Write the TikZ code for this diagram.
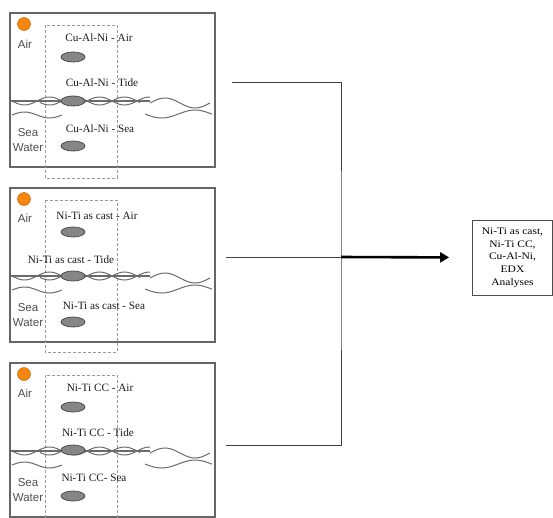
\documentclass[tikz,border=0pt]{standalone}
\usepackage{fontspec}
\setmainfont{Liberation Serif}
\newfontfamily\arialfont{Liberation Sans}
\newfontfamily\widefont[FakeStretch=1.15]{Liberation Serif}
\usetikzlibrary{arrows.meta,positioning,calc}

\definecolor{framegray}{HTML}{666666}
\definecolor{wavegray}{HTML}{6A6A6A}
\definecolor{labelgray}{HTML}{4E4E4E}
\definecolor{samplefill}{HTML}{868686}
\definecolor{airorange}{HTML}{F7860F}

\tikzset{
  panel/.style={draw=framegray, line width=1.1pt},
  zone/.style={draw=gray!80, densely dashed, line width=0.8pt},
  wave/.style={draw=wavegray, line width=1pt},
  sample/.style={fill=samplefill, draw=black!70, line width=0.8pt},
  medium/.style={font=\arialfont\fontsize{11.5}{15}\selectfont, text=labelgray, inner sep=0pt, align=center},
  spec/.style={font=\fontsize{11.2}{13}\selectfont, text=black!90, inner sep=0pt},
  link/.style={draw=black!75, line width=0.9pt},
}

\begin{document}
\begin{tikzpicture}[x=1pt, y=-1pt]
                \clip (0,0) rectangle (553,517);

                % Cu-Al-Ni panel
                \begin{scope}
                \draw[panel] (10,13) rectangle (215,167);
                \draw[zone] (45,25) rectangle (117,178);
                \draw[draw=airorange!70!black, fill=airorange] (24,24) circle (6.5);
                \node[medium] (air1) at (25,44) {Air};
                \node[medium] (sea1) at (28,140) {Sea\\Water};
                % waves
                \draw[wave, line width=1.2pt] (10,101) -- (150,101);
                \draw[wave] plot[domain=12:150, samples=60, smooth] (\x, {101+4*sin((\x-12)*7.2)});
                \draw[wave] plot[domain=40:140, samples=50, smooth] (\x, {101-4*sin((\x-12)*7.2)});
                \draw[wave] plot[domain=150:210, samples=30, smooth] (\x, {103-5*sin((\x-150)*6)});
                \draw[wave] plot[domain=145:212, samples=30, smooth] (\x, {114+4*sin((\x-145)*5.4)});
                \draw[wave] plot[domain=12:62, samples=30, smooth] (\x, {115-3*sin((\x-12)*7.2)});
                % samples
                \draw[sample] (73,57) ellipse (12 and 5);
                \draw[sample] (73,101) ellipse (12 and 5);
                \draw[sample] (73,146) ellipse (12 and 5);
                \node[spec] (cuAir) at (99,38) {Cu-Al-Ni - Air};
                \node[spec] (cuTide) at (102,83) {Cu-Al-Ni - Tide};
                \node[spec] (cuSea) at (100,129) {Cu-Al-Ni - Sea};
                \end{scope}

                % Ni-Ti as cast panel
                \begin{scope}[shift={(0,175)}]
                \draw[panel] (10,13) rectangle (215,167);
                \draw[zone] (45,25) rectangle (117,177);
                \draw[draw=airorange!70!black, fill=airorange] (24,24) circle (6.5);
                \node[medium] (air2) at (25,43) {Air};
                \node[medium] (sea2) at (28,140) {Sea\\Water};
                % waves
                \draw[wave, line width=1.2pt] (10,101) -- (150,101);
                \draw[wave] plot[domain=12:150, samples=60, smooth] (\x, {101+4*sin((\x-12)*7.2)});
                \draw[wave] plot[domain=40:140, samples=50, smooth] (\x, {101-4*sin((\x-12)*7.2)});
                \draw[wave] plot[domain=150:210, samples=30, smooth] (\x, {103-5*sin((\x-150)*6)});
                \draw[wave] plot[domain=145:212, samples=30, smooth] (\x, {114+4*sin((\x-145)*5.4)});
                \draw[wave] plot[domain=12:62, samples=30, smooth] (\x, {115-3*sin((\x-12)*7.2)});
                % samples
                \draw[sample] (73,57) ellipse (12 and 5);
                \draw[sample] (73,101) ellipse (12 and 5);
                \draw[sample] (73,147) ellipse (12 and 5);
                \node[spec] (castAir) at (97,41) {Ni-Ti as cast - Air};
                \node[spec] (castTide) at (71,85) {Ni-Ti as cast - Tide};
                \node[spec] (castSea) at (104,131) {Ni-Ti as cast - Sea};
                \end{scope}

                % Ni-Ti CC panel
                \begin{scope}[shift={(0,350)}]
                \draw[panel] (10,13) rectangle (215,167);
                \draw[zone] (45,25) rectangle (117,178);
                \draw[draw=airorange!70!black, fill=airorange] (24,24) circle (6.5);
                \node[medium] (air3) at (25,43) {Air};
                \node[medium] (sea3) at (28,140) {Sea\\Water};
                % waves
                \draw[wave, line width=1.2pt] (10,101) -- (150,101);
                \draw[wave] plot[domain=12:150, samples=60, smooth] (\x, {101+4*sin((\x-12)*7.2)});
                \draw[wave] plot[domain=40:140, samples=50, smooth] (\x, {101-4*sin((\x-12)*7.2)});
                \draw[wave] plot[domain=150:210, samples=30, smooth] (\x, {103-5*sin((\x-150)*6)});
                \draw[wave] plot[domain=145:212, samples=30, smooth] (\x, {114+4*sin((\x-145)*5.4)});
                \draw[wave] plot[domain=12:62, samples=30, smooth] (\x, {115-3*sin((\x-12)*7.2)});
                % samples
                \draw[sample] (73,57) ellipse (12 and 5);
                \draw[sample] (73,100) ellipse (12 and 5);
                \draw[sample] (73,146) ellipse (12 and 5);
                \node[spec] (ccAir) at (100,38) {Ni-Ti CC - Air};
                \node[spec] (ccTide) at (98,83) {Ni-Ti CC - Tide};
                \node[spec] (ccSea) at (94,128) {Ni-Ti CC- Sea};
                \end{scope}

                % Analyses
                \node[draw=black!70, line width=0.8pt, minimum width=80pt, minimum height=75pt,
                      align=center, inner sep=0pt, font=\widefont\fontsize{10}{12.7}\selectfont]
                      (res) at (512.5,257.5) {Ni-Ti as cast,\\Ni-Ti CC,\\Cu-Al-Ni,\\EDX\\Analyses};

                % Connectors
                \coordinate (outCu) at (232,82);
                \coordinate (outCast) at (226,257);
                \coordinate (outCC) at (226,445);
                \coordinate (join) at (341,257);
                \draw[link] (outCu) -| (join) |- (outCC);
                \draw[link] (outCast) -- (join);
                \draw[line width=2.6pt, -{Triangle[length=9pt,width=10pt]}, shorten >=23pt] (join) -- (res.west);
            \end{tikzpicture}
\end{document}
